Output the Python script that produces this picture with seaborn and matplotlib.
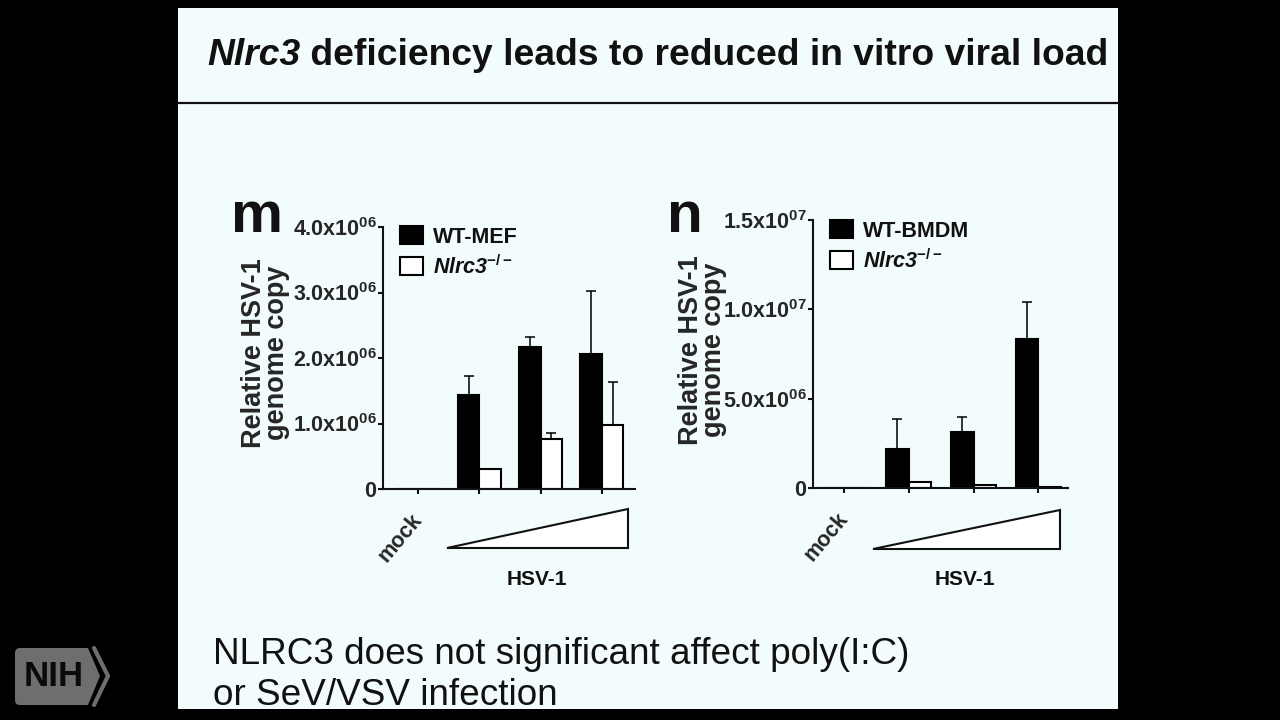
import matplotlib
matplotlib.use("Agg")
import matplotlib.pyplot as plt
import matplotlib.transforms as mtransforms
from matplotlib.patches import Patch, Polygon, Rectangle, FancyBboxPatch
import seaborn as sns
import pandas as pd

# Datos (copias relativas del genoma HSV-1)
doses = ["mock", "HSV-1 low", "HSV-1 mid", "HSV-1 high"]
dose_ticklabels = ["mock", "", "", ""]

m_groups = ["WT-MEF", r"Nlrc3$^{-/-}$"]
m_wt = [0, 1.43e6, 2.17e6, 2.06e6]
m_wt_err = [0, 0.30e6, 0.15e6, 0.96e6]
m_ko = [0, 0.31e6, 0.76e6, 0.97e6]
m_ko_err = [0, 0, 0.10e6, 0.66e6]
m_yticks = [0, 1e6, 2e6, 3e6, 4e6]
m_yticklabels = ["0", r"$\mathrm{1.0x10^{06}}$", r"$\mathrm{2.0x10^{06}}$",
                 r"$\mathrm{3.0x10^{06}}$", r"$\mathrm{4.0x10^{06}}$"]

n_groups = ["WT-BMDM", r"Nlrc3$^{-/-}$"]
n_wt = [0, 2.20e6, 3.14e6, 8.33e6]
n_wt_err = [0, 1.65e6, 0.82e6, 2.07e6]
n_ko = [0, 0.35e6, 0.15e6, 0.08e6]
n_ko_err = [0, 0, 0, 0]
n_yticks = [0, 5e6, 1e7, 1.5e7]
n_yticklabels = ["0", r"$\mathrm{5.0x10^{06}}$", r"$\mathrm{1.0x10^{07}}$",
                 r"$\mathrm{1.5x10^{07}}$"]

title_gene = "Nlrc3"
title_rest = " deficiency leads to reduced in vitro viral load"
note_lines = ["NLRC3 does not significant affect poly(I:C)", "or SeV/VSV infection"]
ylabel = "Relative HSV-1\ngenome copy"

BG = "#f2fcfc"

sns.set_theme(style="ticks")
plt.rcParams["font.family"] = ["Liberation Sans", "DejaVu Sans"]
plt.rcParams["font.weight"] = "bold"
plt.rcParams["mathtext.fontset"] = "custom"
plt.rcParams["mathtext.rm"] = "Liberation Sans:bold"
plt.rcParams["mathtext.bf"] = "Liberation Sans:bold"
plt.rcParams["mathtext.it"] = "Liberation Sans:italic:bold"
plt.rcParams["text.color"] = "#111111"

fig = plt.figure(figsize=(12.8, 7.2), dpi=100, facecolor="black")

# Fondo de la diapositiva en coordenadas de pixel
bg = fig.add_axes([0, 0, 1, 1], zorder=0)
bg.set_xlim(0, 1280)
bg.set_ylim(720, 0)
bg.axis("off")
bg.add_patch(Rectangle((178, 8), 940, 701, facecolor=BG, edgecolor="none"))
bg.plot([178, 1118], [103, 103], color="#111111", lw=1.6)

# Titulo: gen en cursiva seguido del resto
t_gene = bg.text(207, 65, title_gene, fontsize=26.8, fontweight="bold", fontstyle="italic",
                 ha="left", va="baseline")
bg.annotate(title_rest, xy=(1, 65), xycoords=(t_gene, "data"), fontsize=26.8,
            fontweight="bold", ha="left", va="baseline")

bg.text(213, 664, note_lines[0], fontsize=26.6, fontweight="normal", ha="left", va="baseline")
bg.text(213, 705, note_lines[1], fontsize=26.6, fontweight="normal", ha="left", va="baseline")
bg.text(231, 232, "m", fontsize=42, fontweight="bold", ha="left", va="baseline")
bg.text(667, 232, "n", fontsize=42, fontweight="bold", ha="left", va="baseline")

# Logo NIH
bg.add_patch(FancyBboxPatch((18, 651), 66, 51, boxstyle="round,pad=3,rounding_size=5",
                            facecolor="#6e6e6e", edgecolor="none"))
bg.add_patch(Polygon([(80, 648), (88, 648), (100, 676), (88, 705), (80, 705)],
                     closed=True, facecolor="#6e6e6e", edgecolor="none"))
bg.plot([94, 108, 94], [648, 676, 705], color="#6e6e6e", lw=3)
bg.text(54, 677, "NIH", fontsize=25, fontweight="bold", color="#0a0a0a", ha="center", va="center")


def draw_panel(ax, groups, wt, wt_err, ko, ko_err, yticks, yticklabels, xlim,
               legend_xy, tri, hsv_pos, label_xy):
    df = pd.DataFrame({
        "dose": doses * 2,
        "genotype": [groups[0]] * len(doses) + [groups[1]] * len(doses),
        "copies": wt + ko,
    })
    sns.barplot(data=df, x="dose", y="copies", hue="genotype", order=doses,
                hue_order=groups, palette={groups[0]: "black", groups[1]: "white"},
                saturation=1, width=0.7, edgecolor="black", linewidth=1.5,
                errorbar=None, legend=False, ax=ax)

    # barras de error solo hacia arriba
    for container, errs in zip(ax.containers, [wt_err, ko_err]):
        for bar, e in zip(container, errs):
            if e <= 0:
                continue
            x = bar.get_x() + bar.get_width() / 2
            ax.errorbar([x], [bar.get_height()], yerr=[[0], [e]], fmt="none",
                        ecolor="black", elinewidth=1.1, capsize=3.6, capthick=1.1, zorder=3)

    ax.set_facecolor("none")
    ax.set_xlim(*xlim)
    ax.set_ylim(0, yticks[-1])
    ax.set_yticks(yticks)
    ax.set_yticklabels(yticklabels)
    ax.set_xticks(range(len(doses)))
    ax.set_xticklabels(dose_ticklabels, rotation=50, ha="right", va="center",
                       rotation_mode="anchor", fontsize=17.5)
    ax.set_xlabel("")
    ax.set_ylabel(ylabel, fontsize=19.5, fontweight="bold", linespacing=0.85)
    ax.yaxis.set_label_coords(*label_xy)
    sns.despine(ax=ax)
    for s in ["left", "bottom"]:
        ax.spines[s].set_linewidth(1.5)
        ax.spines[s].set_color("#111111")
    ax.tick_params(axis="both", direction="out", length=3.6, width=1.5,
                   color="#111111", labelsize=15.5, pad=1)
    ax.tick_params(axis="x", pad=16)

    # triangulo de dosis creciente
    trans = mtransforms.blended_transform_factory(ax.transData, ax.transAxes)
    ax.add_patch(Polygon([(tri[0], tri[2]), (tri[1], tri[2]), (tri[1], tri[3])],
                         closed=True, facecolor="white", edgecolor="#111111", lw=1.5,
                         transform=trans, clip_on=False))
    ax.text(hsv_pos[0], hsv_pos[1], "HSV-1", transform=trans, ha="center", va="center",
            fontsize=15, fontweight="bold")

    handles = [Patch(facecolor="black", edgecolor="black", lw=1.5),
               Patch(facecolor="white", edgecolor="black", lw=1.5)]
    leg = ax.legend(handles, groups, loc="upper left", bbox_to_anchor=legend_xy,
                    bbox_transform=fig.transFigure, frameon=False, borderpad=0,
                    borderaxespad=0, handlelength=1.07, handleheight=0.93,
                    handletextpad=0.47, labelspacing=0.35,
                    prop={"size": 15.5, "weight": "bold"})
    leg.get_texts()[1].set_fontstyle("italic")


ax_m = fig.add_axes([383 / 1280, 1 - 489 / 720, 252 / 1280, 262 / 720], zorder=1)
draw_panel(ax_m, m_groups, m_wt, m_wt_err, m_ko, m_ko_err, m_yticks, m_yticklabels,
           (-0.57, 3.54), (400 / 1280, 1 - 226 / 720),
           (0.47, 3.42, -0.225, -0.076), (1.94, -0.347), (-0.369, 0.519))

ax_n = fig.add_axes([813 / 1280, 1 - 488 / 720, 255 / 1280, 268 / 720], zorder=1)
draw_panel(ax_n, n_groups, n_wt, n_wt_err, n_ko, n_ko_err, n_yticks, n_yticklabels,
           (-0.48, 3.46), (830 / 1280, 1 - 220 / 720),
           (0.45, 3.34, -0.228, -0.082), (1.87, -0.343), (-0.337, 0.515))

fig.savefig("out.png", dpi=100, facecolor=fig.get_facecolor())
